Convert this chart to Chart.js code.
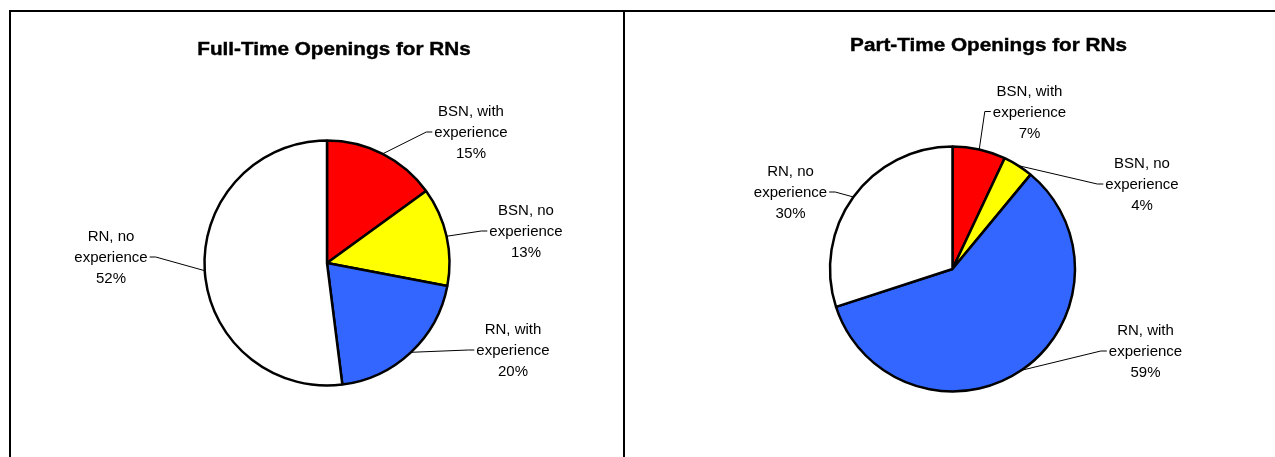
<!DOCTYPE html>
<html>
<head>
<meta charset="utf-8">
<script src="https://cdn.jsdelivr.net/npm/chart.js@4"></script>
<style>
  html, body { margin: 0; padding: 0; background: #fff; }
  #wrap { position: relative; width: 1275px; height: 457px; overflow: hidden; }
  canvas { position: absolute; left: 0; top: 0; }
  .line { position: absolute; background: #000; }
</style>
</head>
<body>
<div id="wrap">
  <div class="line" style="left:9px; top:10px; width:1266px; height:2px;"></div>
  <div class="line" style="left:9px; top:10px; width:2px; height:447px;"></div>
  <div class="line" style="left:623px; top:10px; width:2px; height:447px;"></div>
  <canvas id="c1" width="1275" height="457"></canvas>
  <canvas id="c2" width="1275" height="457"></canvas>
</div>
<script>
// ---- data ----
const categories = ['BSN, with experience', 'BSN, no experience', 'RN, with experience', 'RN, no experience'];
const categoryLines = [['BSN, with', 'experience'], ['BSN, no', 'experience'], ['RN, with', 'experience'], ['RN, no', 'experience']];
const fullTimeValues = [15, 13, 20, 52];
const partTimeValues = [7, 4, 59, 30];
const fullTimeTitle = 'Full-Time Openings for RNs';
const partTimeTitle = 'Part-Time Openings for RNs';

// ---- styling / layout ----
const sliceColors = ['#FF0000', '#FFFF00', '#3366FF', '#FFFFFF'];
const FONT = '"Liberation Sans", Arial, Helvetica, sans-serif';

// label offsets (center x, middle-line baseline) relative to pie center
const fullLabelOffsets = [[144, -126], [199, -27], [186, 92], [-216, -1]];
const partLabelOffsets = [[77, -152.5], [189.5, -80], [193, 87], [-162, -72]];

const pieLabels = {
  id: 'pieLabels',
  afterDatasetsDraw(chart, args, opts) {
    const ctx = chart.ctx;
    const meta = chart.getDatasetMeta(0);
    const values = chart.data.datasets[0].data;
    const total = values.reduce((a, b) => a + b, 0);
    ctx.save();
    ctx.font = '15px ' + FONT;
    ctx.fillStyle = '#000';
    ctx.textAlign = 'center';
    ctx.textBaseline = 'alphabetic';
    const lh = 21;
    meta.data.forEach((arc, i) => {
      const off = opts.offsets[i];
      const cx = arc.x + off[0];
      const by = arc.y + off[1];
      const lines = categoryLines[i].concat([Math.round(values[i] / total * 100) + '%']);
      ctx.fillText(lines[0], cx, by - lh);
      ctx.fillText(lines[1], cx, by);
      ctx.fillText(lines[2], cx, by + lh);
      // leader line
      const mid = (arc.startAngle + arc.endAngle) / 2;
      const px = arc.x + Math.cos(mid) * arc.outerRadius;
      const py = arc.y + Math.sin(mid) * arc.outerRadius;
      const w = ctx.measureText(lines[1]).width;
      const right = cx > arc.x;
      const edge = right ? cx - w / 2 - 2 : cx + w / 2 + 2;
      const elbow = right ? edge - 6 : edge + 6;
      const my = by - 5;
      ctx.beginPath();
      ctx.strokeStyle = '#000';
      ctx.lineWidth = 1;
      ctx.moveTo(px, py);
      ctx.lineTo(elbow, my);
      ctx.lineTo(edge, my);
      ctx.stroke();
    });
    // title
    ctx.font = 'bold 18px ' + FONT;
    ctx.save();
    ctx.translate(opts.titleX, opts.titleY);
    ctx.scale(1.15, 1);
    ctx.fillText(opts.title, 0, 0);
    ctx.lineWidth = 0.4;
    ctx.strokeStyle = '#000';
    ctx.strokeText(opts.title, 0, 0);
    ctx.restore();
    ctx.restore();
  }
};

function makePie(id, values, padding, offsets, title, titleX, titleY) {
  return new Chart(document.getElementById(id), {
    type: 'pie',
    data: {
      labels: categories,
      datasets: [{
        data: values,
        backgroundColor: sliceColors,
        borderColor: '#000',
        borderWidth: 2.5,
        borderAlign: 'center'
      }]
    },
    options: {
      responsive: false,
      animation: false,
      radius: 122.5,
      layout: { padding: padding },
      events: [],
      plugins: {
        legend: { display: false },
        tooltip: { enabled: false },
        title: { display: false },
        pieLabels: { offsets: offsets, title: title, titleX: titleX, titleY: titleY }
      }
    },
    plugins: [pieLabels]
  });
}

makePie('c1', fullTimeValues, { left: 0, right: 621, top: 69, bottom: 0 }, fullLabelOffsets, fullTimeTitle, 334, 55);
makePie('c2', partTimeValues, { left: 630, right: 0, top: 81, bottom: 0 }, partLabelOffsets, partTimeTitle, 988.5, 51);
</script>
</body>
</html>
